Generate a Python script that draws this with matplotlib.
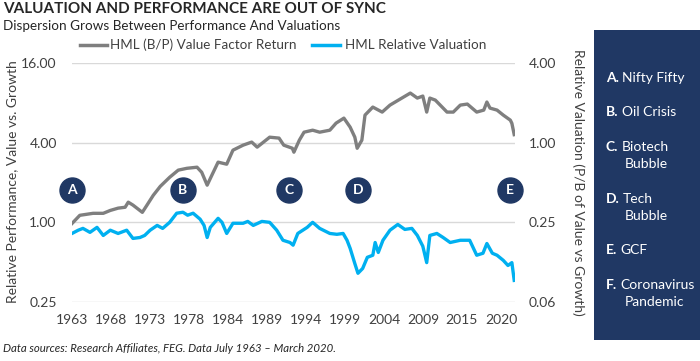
import numpy as np
import matplotlib
matplotlib.use("Agg")
import matplotlib.pyplot as plt
from matplotlib.patches import Rectangle

plt.rcParams['font.family'] = ['Lato', 'DejaVu Sans']

# ---- data ----
hml_years = [1963.5, 1964.5, 1966.2, 1967.5, 1968.4, 1969.4, 1970.3, 1970.7, 1971.3, 1972.5,
             1973.1, 1973.9, 1974.8, 1976.0, 1977.1, 1978.2, 1979.5, 1980.1, 1980.8, 1981.4,
             1982.2, 1983.3, 1984.1, 1985.4, 1986.5, 1987.2, 1988.8, 1990.0, 1990.6, 1991.7,
             1991.9, 1992.6, 1993.2, 1994.3, 1995.2, 1996.5, 1997.3, 1998.3, 1999.1, 1999.7,
             2000.0, 2000.6, 2001.0, 2002.0, 2003.2, 2004.2, 2005.5, 2006.8, 2007.7, 2008.4,
             2008.9, 2009.3, 2010.0, 2011.5, 2012.3, 2013.2, 2014.1, 2015.3, 2016.2, 2016.6,
             2017.0, 2017.9, 2018.7, 2019.6, 2019.8, 2020.1]
hml_values = [0.98, 1.13, 1.17, 1.17, 1.23, 1.28, 1.30, 1.42, 1.35, 1.19,
              1.35, 1.60, 1.87, 2.19, 2.48, 2.56, 2.61, 2.39, 1.91, 2.27,
              2.85, 2.75, 3.51, 3.83, 4.04, 3.70, 4.40, 4.33, 3.83, 3.63,
              3.39, 4.18, 4.80, 4.97, 4.80, 4.97, 5.62, 6.13, 5.24, 4.40,
              3.63, 4.18, 6.46, 7.43, 6.81, 7.69, 8.54, 9.48, 8.69, 9.00,
              6.81, 8.69, 8.39, 6.81, 6.81, 7.69, 7.83, 6.81, 7.05, 8.11,
              7.30, 7.05, 6.46, 5.92, 5.60, 4.60]

val_years = [1963.5, 1964.3, 1964.9, 1965.8, 1966.7, 1967.5, 1968.4, 1969.4, 1970.5, 1971.3,
             1972.2, 1972.8, 1973.5, 1974.4, 1975.1, 1976.0, 1976.9, 1977.7, 1978.3, 1979.0,
             1979.9, 1980.4, 1980.8, 1981.2, 1982.2, 1982.7, 1983.3, 1984.1, 1985.4, 1986.0,
             1986.7, 1987.8, 1988.8, 1989.7, 1990.5, 1991.4, 1991.8, 1992.4, 1993.6, 1994.3,
             1995.2, 1996.5, 1997.4, 1998.2, 1998.7, 1999.1, 1999.7, 2000.1, 2000.7, 2001.3,
             2002.0, 2002.3, 2002.7, 2003.3, 2004.2, 2005.2, 2006.1, 2007.0, 2007.7, 2008.4,
             2008.9, 2009.3, 2010.2, 2011.0, 2011.9, 2013.2, 2014.4, 2015.3, 2016.1, 2016.6,
             2017.3, 2017.9, 2018.7, 2019.3, 2019.8, 2020.1]
val_values = [0.206, 0.218, 0.225, 0.210, 0.229, 0.199, 0.218, 0.206, 0.218, 0.189,
              0.192, 0.199, 0.218, 0.237, 0.225, 0.250, 0.293, 0.298, 0.283, 0.293,
              0.264, 0.237, 0.192, 0.229, 0.268, 0.250, 0.206, 0.246, 0.246, 0.254,
              0.237, 0.254, 0.250, 0.218, 0.183, 0.176, 0.168, 0.206, 0.229, 0.250,
              0.225, 0.206, 0.203, 0.206, 0.183, 0.159, 0.122, 0.103, 0.112, 0.136,
              0.141, 0.176, 0.148, 0.183, 0.218, 0.241, 0.221, 0.225, 0.199, 0.165,
              0.124, 0.199, 0.206, 0.192, 0.176, 0.183, 0.183, 0.141, 0.146, 0.173,
              0.146, 0.141, 0.129, 0.118, 0.124, 0.091]

x_tick_labels = ['1963', '1968', '1973', '1978', '1984', '1989', '1994', '1999',
                 '2004', '2009', '2015', '2020']
left_ticks = [0.25, 1.0, 4.0, 16.0]
left_tick_labels = ['0.25', '1.00', '4.00', '16.00']
right_ticks = [0.0625, 0.25, 1.0, 4.0]
right_tick_labels = ['0.06', '0.25', '1.00', '4.00']

event_labels = ['A', 'B', 'C', 'D', 'E']
event_years = [1963.5, 1977.7, 1991.3, 2000.1, 2019.6]

panel_items = [('A.', 'Nifty Fifty', None), ('B.', 'Oil Crisis', None),
               ('C.', 'Biotech', 'Bubble'), ('D.', 'Tech', 'Bubble'),
               ('E.', 'GCF', None), ('F.', 'Coronavirus', 'Pandemic')]

# ---- styles ----
GRAY = '#7f7f7f'
BLUE = '#00b0f0'
NAVY = '#203864'
TXT = '#404040'

W, H = 700, 361
fig = plt.figure(figsize=(7.0, 3.61), dpi=100)

def fx(px):
    return px / W

def fy(py):
    return 1 - py / H

ax_l, ax_r, ax_t, ax_b = 72, 515, 63, 302
ax = fig.add_axes([fx(ax_l), fy(ax_b), (ax_r - ax_l) / W, (ax_b - ax_t) / H])
ax.set_yscale('log')
ax.set_ylim(0.25, 16)
ax.set_xlim(1963.5, 2020.2)
for s in ax.spines.values():
    s.set_visible(False)
ax.set_yticks(left_ticks)
ax.set_yticklabels(left_tick_labels)
ax.yaxis.set_minor_locator(matplotlib.ticker.NullLocator())
ax.grid(axis='y', color='#d9d9d9', lw=1)
ax.set_axisbelow(True)
ax.tick_params(axis='both', length=0, labelsize=10, colors=TXT)
ax.tick_params(axis='y', pad=11)
ax.tick_params(axis='x', pad=9)
xt = np.linspace(1963.5, 2018.4, len(x_tick_labels))
ax.set_xticks(xt)
ax.set_xticklabels(x_tick_labels)

ax.plot(hml_years, hml_values, color=GRAY, lw=2.4, solid_joinstyle='round', zorder=3)

ax2 = ax.twinx()
ax2.set_yscale('log')
ax2.set_ylim(0.0625, 4)
for s in ax2.spines.values():
    s.set_visible(False)
ax2.set_yticks(right_ticks)
ax2.set_yticklabels(right_tick_labels)
ax2.yaxis.set_minor_locator(matplotlib.ticker.NullLocator())
ax2.tick_params(axis='y', length=0, labelsize=10, colors=TXT, pad=10)
ax2.plot(val_years, val_values, color=BLUE, lw=2.4, solid_joinstyle='round', zorder=3)

# event markers
for lab, yr in zip(event_labels, event_years):
    ax.plot([yr], [1.75], marker='o', ms=18, color=NAVY, mec=NAVY, zorder=5, clip_on=False)
    ax.text(yr, 1.75, lab, color='white', fontsize=10, fontweight='bold',
            ha='center', va='center', zorder=6, clip_on=False)

# axis labels
fig.text(fx(12), fy(182), 'Relative Performance, Value vs. Growth', rotation=90,
         ha='center', va='center', fontsize=10, color=TXT)
fig.text(fx(578), fy(182), 'Relative Valuation (P/B of Value vs Growth)', rotation=270,
         ha='center', va='center', fontsize=10, color=TXT)

# title
fig.text(fx(3), fy(9), 'VALUATION AND PERFORMANCE ARE OUT OF SYNC', fontsize=11,
         fontweight='bold', color='#262626', ha='left', va='center')
fig.text(fx(3), fy(26), 'Dispersion Grows Between Performance And Valuations',
         fontsize=9.7, color='#262626', ha='left', va='center')

# legend
fig.add_artist(plt.Line2D([fx(80), fx(107)], [fy(45), fy(45)], color=GRAY, lw=2.5))
fig.text(fx(110), fy(45), 'HML (B/P) Value Factor Return', fontsize=9.7, color=TXT,
         ha='left', va='center')
fig.add_artist(plt.Line2D([fx(312), fx(340)], [fy(45), fy(45)], color=BLUE, lw=2.5))
fig.text(fx(345), fy(45), 'HML Relative Valuation', fontsize=9.7, color=TXT,
         ha='left', va='center')

# footer
fig.text(fx(3), fy(349), 'Data sources: Research Affiliates, FEG. Data July 1963 \u2013 March 2020.',
         fontsize=8.2, style='italic', color='#262626', ha='left', va='center')

# right panel
fig.add_artist(Rectangle((fx(594), fy(340)), (700 - 594) / W, (340 - 30) / H,
                         transform=fig.transFigure, facecolor=NAVY, edgecolor='none'))
renderer = fig.canvas.get_renderer()
y_pos = [78, 112, 147, 199, 250, 285]
for (lead, rest, cont), yy in zip(panel_items, y_pos):
    t = fig.text(fx(606), fy(yy), lead, fontsize=10, fontweight='bold', color='white',
                 ha='left', va='center')
    bb = t.get_window_extent(renderer=renderer)
    fig.text(fx(bb.x1 + 3), fy(yy), rest, fontsize=10, color='white',
             ha='left', va='center')
    if cont:
        fig.text(fx(625), fy(yy + 17), cont, fontsize=10, color='white',
                 ha='left', va='center')

fig.savefig('out.png', dpi=100)
